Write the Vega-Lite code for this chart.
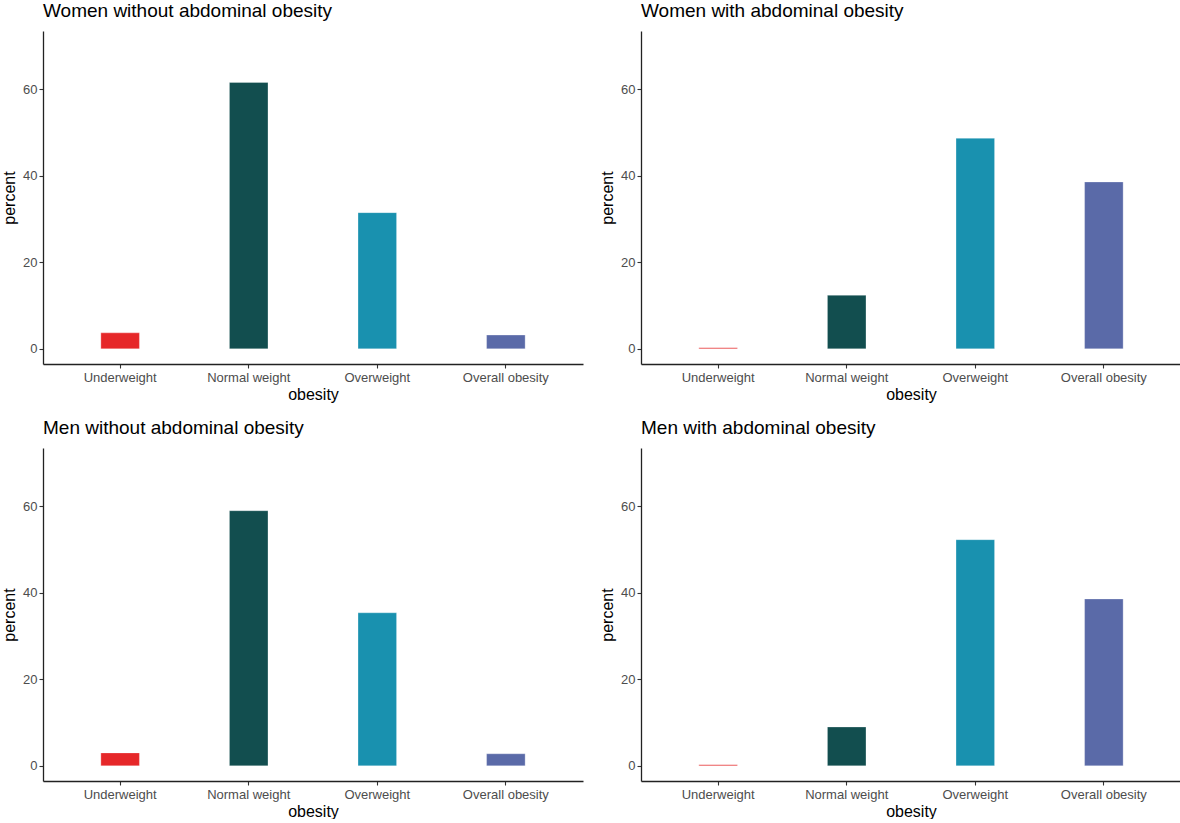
{
  "$schema": "https://vega.github.io/schema/vega-lite/v6.json",
  "padding": {"left": 1, "top": 2, "right": 0, "bottom": 0},
  "background": "white",
  "config": {
    "font": "Liberation Sans",
    "view": {"stroke": null},
    "axis": {
      "grid": false,
      "domainColor": "#222222",
      "domainWidth": 1.3,
      "tickColor": "#333333",
      "tickSize": 4,
      "tickWidth": 1.1,
      "labelColor": "#4D4D4D",
      "labelFontSize": 13,
      "labelFont": "Liberation Sans",
      "titleFont": "Liberation Sans",
      "titleFontSize": 16,
      "titleFontWeight": "normal",
      "titleColor": "black"
    }
  },
  "data": {
    "values": [
      {"group": "Women without abdominal obesity", "obesity": "Underweight", "percent": 3.7},
      {"group": "Women without abdominal obesity", "obesity": "Normal weight", "percent": 61.6},
      {"group": "Women without abdominal obesity", "obesity": "Overweight", "percent": 31.5},
      {"group": "Women without abdominal obesity", "obesity": "Overall obesity", "percent": 3.2},
      {"group": "Women with abdominal obesity", "obesity": "Underweight", "percent": 0.25},
      {"group": "Women with abdominal obesity", "obesity": "Normal weight", "percent": 12.4},
      {"group": "Women with abdominal obesity", "obesity": "Overweight", "percent": 48.7},
      {"group": "Women with abdominal obesity", "obesity": "Overall obesity", "percent": 38.6},
      {"group": "Men without abdominal obesity", "obesity": "Underweight", "percent": 3.0},
      {"group": "Men without abdominal obesity", "obesity": "Normal weight", "percent": 59.0},
      {"group": "Men without abdominal obesity", "obesity": "Overweight", "percent": 35.4},
      {"group": "Men without abdominal obesity", "obesity": "Overall obesity", "percent": 2.8},
      {"group": "Men with abdominal obesity", "obesity": "Underweight", "percent": 0.25},
      {"group": "Men with abdominal obesity", "obesity": "Normal weight", "percent": 9.0},
      {"group": "Men with abdominal obesity", "obesity": "Overweight", "percent": 52.3},
      {"group": "Men with abdominal obesity", "obesity": "Overall obesity", "percent": 38.6}
    ]
  },
  "facet": {
    "field": "group",
    "type": "nominal",
    "sort": ["Women without abdominal obesity", "Women with abdominal obesity", "Men without abdominal obesity", "Men with abdominal obesity"],
    "header": {
      "title": null,
      "labelAnchor": "start",
      "labelFont": "Liberation Sans",
      "labelFontSize": 19,
      "labelColor": "black",
      "labelPadding": 10
    }
  },
  "columns": 2,
  "spacing": {"row": 17, "column": 16},
  "resolve": {"axis": {"x": "independent", "y": "independent"}},
  "spec": {
    "width": 540,
    "height": 333,
    "mark": {"type": "bar", "stroke": "white", "strokeWidth": 0.5, "strokeOpacity": 0.6},
    "encoding": {
      "x": {
        "field": "obesity",
        "type": "nominal",
        "sort": ["Underweight", "Normal weight", "Overweight", "Overall obesity"],
        "scale": {"paddingInner": 0.7, "paddingOuter": 0.45},
        "axis": {"labelAngle": 0, "labelPadding": 3, "titlePadding": 2}
      },
      "y": {
        "field": "percent",
        "type": "quantitative",
        "scale": {"domain": [-3.5, 73.5], "nice": false, "zero": false},
        "axis": {"values": [0, 20, 40, 60], "labelPadding": 2, "titlePadding": 5}
      },
      "y2": {"datum": 0},
      "color": {
        "field": "obesity",
        "type": "nominal",
        "scale": {
          "domain": ["Underweight", "Normal weight", "Overweight", "Overall obesity"],
          "range": ["#E62729", "#124E4F", "#1991AF", "#5A6AA8"]
        },
        "legend": null
      }
    }
  }
}
